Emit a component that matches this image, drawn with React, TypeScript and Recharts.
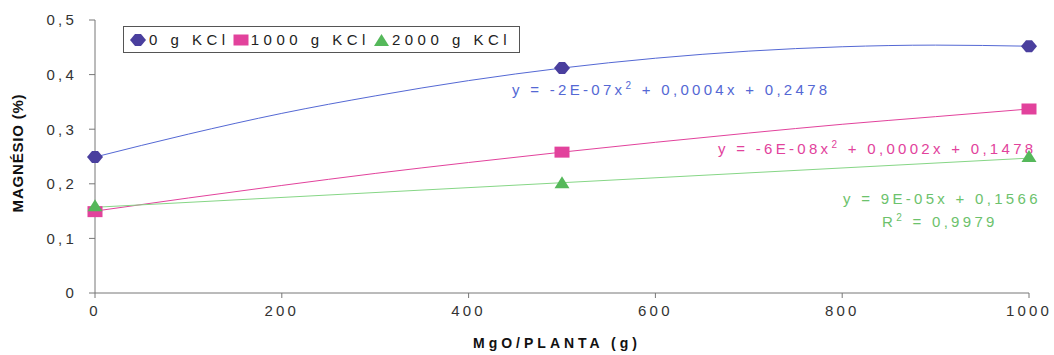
import React from 'react';
import { ComposedChart, Line, Scatter, XAxis, YAxis, Customized } from 'recharts';

// measured points (MgO per plant, g)
const doses = [0, 500, 1000];
const kcl0 = [0.249, 0.412, 0.452];
const kcl1000 = [0.149, 0.258, 0.337];
const kcl2000 = [0.159, 0.201, 0.249];

// trend curves
const trendX = [0, 100, 200, 300, 400, 500, 600, 700, 800, 900, 1000];
const trend0 = [0.249, 0.291, 0.329, 0.361, 0.389, 0.412, 0.43, 0.443, 0.451, 0.454, 0.452];
const trend1000 = [0.15, 0.174, 0.197, 0.219, 0.239, 0.258, 0.276, 0.293, 0.309, 0.323, 0.337];
const trend2000X = [0, 1000];
const trend2000 = [0.157, 0.247];

const xTicks = [0, 200, 400, 600, 800, 1000];
const yTicks = [0, 0.1, 0.2, 0.3, 0.4, 0.5];
const legendLabels = ['0 g KCl', '1000 g KCl', '2000 g KCl'];

const FONT = '"Liberation Sans", Arial, sans-serif';
const BLUE = '#5468d4';
const BLUE_DARK = '#4a3f9e';
const PINK = '#e2429c';
const GREEN = '#55b85a';
const GREEN_LINE = '#86d686';

const pts = (xs: number[], ys: number[]) => xs.map((x, i) => ({ x, y: ys[i] }));

const Diamond = ({ cx, cy, fill }: any) => (
  <polygon
    points={`${cx - 8},${cy} ${cx - 3},${cy - 6} ${cx + 3},${cy - 6} ${cx + 8},${cy} ${cx + 3},${cy + 6} ${cx - 3},${cy + 6}`}
    fill={fill}
  />
);
const Square = ({ cx, cy, fill }: any) => <rect x={cx - 7.5} y={cy - 5.5} width={15} height={11} fill={fill} />;
const Triangle = ({ cx, cy, fill }: any) => (
  <polygon points={`${cx},${cy - 7} ${cx + 7.5},${cy + 5} ${cx - 7.5},${cy + 5}`} fill={fill} />
);

const LegendBox = () => {
  const marks = [
    <svg width={18} height={14} key="d"><Diamond cx={9} cy={7} fill={BLUE_DARK} /></svg>,
    <svg width={16} height={14} key="s"><Square cx={8} cy={7} fill={PINK} /></svg>,
    <svg width={17} height={14} key="t"><Triangle cx={8.5} cy={8} fill={GREEN} /></svg>,
  ];
  return (
    <div style={{ position: 'absolute', left: 123, top: 26, border: '1px solid #555', padding: '3px 8px 3px 5px', display: 'flex', alignItems: 'center', background: '#fff', fontFamily: FONT, fontSize: 15, color: '#222', lineHeight: '19px' }}>
      {legendLabels.map((l, i) => (
        <span key={l} style={{ display: 'flex', alignItems: 'center', marginRight: i < 2 ? 3 : 0 }}>
          {marks[i]}
          <span style={{ letterSpacing: 4.5, marginLeft: 2 }}>{l}</span>
        </span>
      ))}
    </div>
  );
};

const Sup = ({ children }: any) => (
  <tspan dy={-6} fontSize={10}>{children}</tspan>
);

const Annotations = () => (
  <g fontFamily={FONT} fontSize={15} letterSpacing={3.3}>
    <text x={512} y={95} fill={BLUE}>
      y = -2E-07x<Sup>2</Sup><tspan dy={6}> + 0,0004x + 0,2478</tspan>
    </text>
    <text x={718} y={154} fill={PINK}>
      y = -6E-08x<Sup>2</Sup><tspan dy={6}> + 0,0002x + 0,1478</tspan>
    </text>
    <text x={843} y={204} fill="#6cc26c">y = 9E-05x + 0,1566</text>
    <text x={882} y={227} fill="#6cc26c">
      R<Sup>2</Sup><tspan dy={6}> = 0,9979</tspan>
    </text>
    <text x={557} y={348} textAnchor="middle" fill="#111" fontWeight="bold" fontSize={14} letterSpacing={4}>MgO/PLANTA (g)</text>
    <text x={23} y={153} transform="rotate(-90 23 153)" textAnchor="middle" fill="#111" fontWeight="bold" fontSize={15} letterSpacing={0.8}>MAGNÉSIO (%)</text>
  </g>
);

export default function App() {
  const tickStyle = { fill: '#333', fontSize: 15, fontFamily: FONT, letterSpacing: 3.2 };
  return (
    <div style={{ position: 'absolute', left: 0, top: 0, background: '#fff' }}>
      <ComposedChart width={1054} height={355} margin={{ top: 20, right: 25, bottom: 22, left: 0 }}>
        <XAxis
          type="number"
          dataKey="x"
          domain={[0, 1000]}
          ticks={xTicks}
          height={40}
          tick={tickStyle}
          tickSize={5}
          tickMargin={7}
          stroke="#777"
        />
        <YAxis
          type="number"
          domain={[0, 0.5]}
          ticks={yTicks}
          width={95}
          tick={tickStyle}
          tickSize={6}
          tickMargin={12}
          stroke="#777"
          tickFormatter={(v: number) => (v === 0 ? '0' : v.toFixed(1).replace('.', ','))}
        />
        <Line data={pts(trendX, trend0)} dataKey="y" type="monotone" stroke={BLUE} strokeWidth={1} dot={false} isAnimationActive={false} />
        <Line data={pts(trendX, trend1000)} dataKey="y" type="monotone" stroke={PINK} strokeWidth={1} dot={false} isAnimationActive={false} />
        <Line data={pts(trend2000X, trend2000)} dataKey="y" type="linear" stroke={GREEN_LINE} strokeWidth={1} dot={false} isAnimationActive={false} />
        <Scatter data={pts(doses, kcl0)} dataKey="y" fill={BLUE_DARK} shape={<Diamond />} isAnimationActive={false} />
        <Scatter data={pts(doses, kcl1000)} dataKey="y" fill={PINK} shape={<Square />} isAnimationActive={false} />
        <Scatter data={pts(doses, kcl2000)} dataKey="y" fill={GREEN} shape={<Triangle />} isAnimationActive={false} />
        <Customized component={Annotations} />
      </ComposedChart>
      <LegendBox />
    </div>
  );
}
